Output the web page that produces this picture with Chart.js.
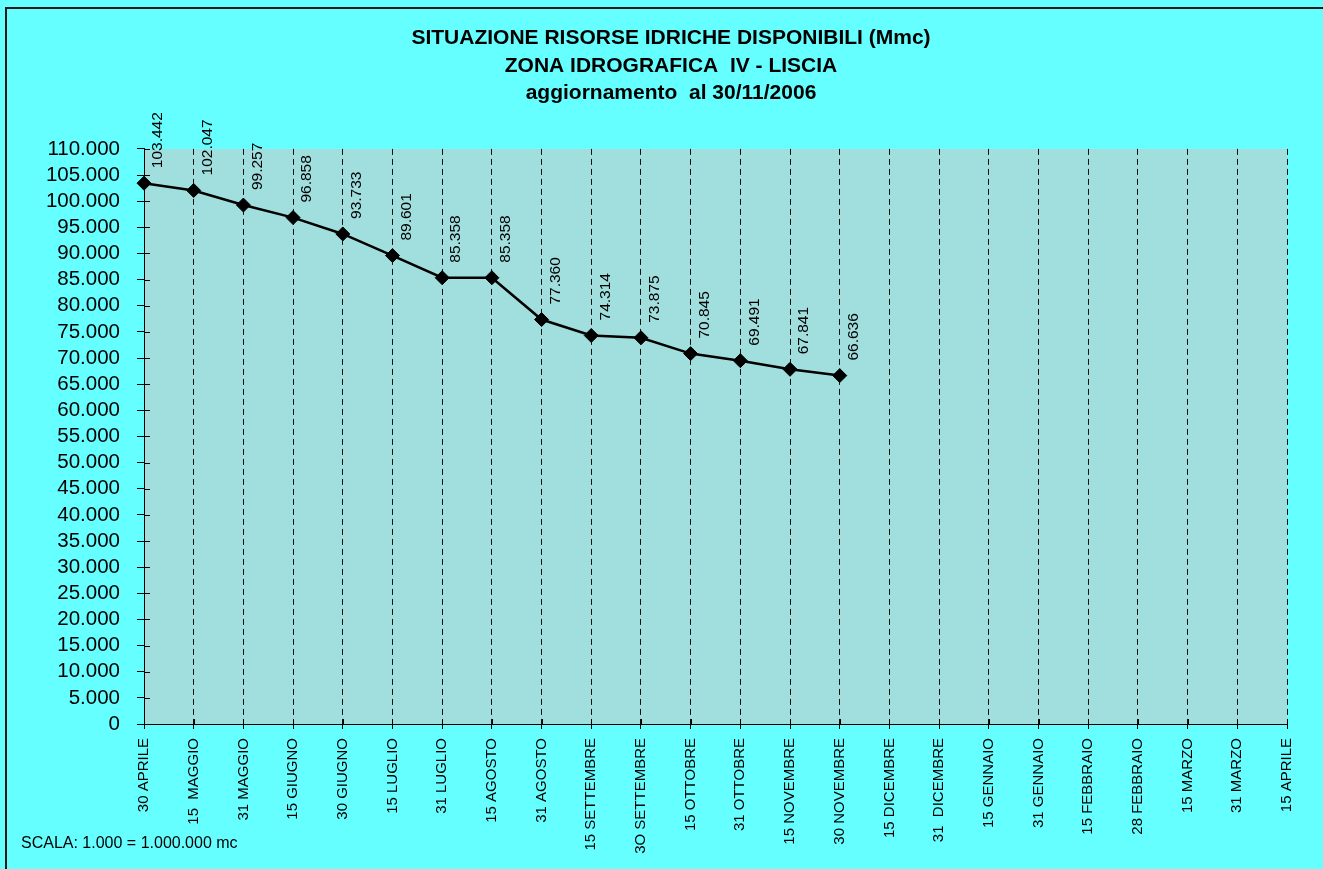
<!DOCTYPE html>
<html lang="it">
<head>
<meta charset="UTF-8" />
<title>Situazione risorse idriche - Liscia</title>
<script src="https://cdn.jsdelivr.net/npm/chart.js@4/dist/chart.umd.min.js"></script>
<style>
  html, body { margin: 0; padding: 0; overflow: hidden; background: #66ffff; }
  .wrap { position: relative; width: 1323px; height: 869px; }
  .frame {
    position: absolute; left: 5px; top: 7px; width: 1340px; height: 900px;
    border-left: 2px solid #1a1a1a; border-top: 2px solid #1a1a1a;
    pointer-events: none;
  }
  canvas { position: absolute; left: 0; top: 0; }
</style>
</head>
<body>
<div class="wrap">
  <canvas id="chart" width="1323" height="869"></canvas>
  <div class="frame"></div>
</div>
<script>
const FONT = 'Arial, "Liberation Sans", sans-serif';

const titleLines = [
  'SITUAZIONE RISORSE IDRICHE DISPONIBILI (Mmc)',
  'ZONA IDROGRAFICA  IV - LISCIA',
  'aggiornamento  al 30/11/2006',
];
const scaleNote = 'SCALA: 1.000 = 1.000.000 mc';

// dates of the survey (x axis)
const dates = [
  '30 APRILE', '15  MAGGIO', '31 MAGGIO', '15 GIUGNO', '30 GIUGNO', '15 LUGLIO',
  '31 LUGLIO', '15 AGOSTO', '31 AGOSTO', '15 SETTEMBRE', '3O SETTEMBRE', '15 OTTOBRE',
  '31 OTTOBRE', '15 NOVEMBRE', '30 NOVEMBRE', '15 DICEMBRE', '31  DICEMBRE', '15 GENNAIO',
  '31 GENNAIO', '15 FEBBRAIO', '28 FEBBRAIO', '15 MARZO', '31 MARZO', '15 APRILE',
];

// available volume, thousands of mc (1.000 = 1 Mmc)
const volumes = [
  103442, 102047, 99257, 96858, 93733, 89601, 85358, 85358,
  77360, 74314, 73875, 70845, 69491, 67841, 66636,
];

const yMin = 0;
const yMax = 110000;
const yStep = 5000;

function fmt(n) {
  return String(n).replace(/\B(?=(\d{3})+(?!\d))/g, '.');
}

const plotBackground = {
  id: 'plotBackground',
  beforeDraw(chart) {
    const { ctx, chartArea: a } = chart;
    ctx.save();
    ctx.fillStyle = '#a1dfdf';
    ctx.fillRect(a.left, a.top, a.right - a.left, a.bottom - a.top);
    ctx.restore();
  },
};

// tick marks crossing the axes (the inner half)
const innerTicks = {
  id: 'innerTicks',
  beforeDatasetsDraw(chart) {
    const { ctx, scales: { x, y } } = chart;
    ctx.save();
    ctx.strokeStyle = '#000';
    ctx.lineWidth = 1;
    ctx.beginPath();
    y.ticks.forEach((t, i) => {
      const py = Math.round(y.getPixelForTick(i)) + 0.5;
      ctx.moveTo(y.right, py);
      ctx.lineTo(y.right + 6, py);
    });
    x.ticks.forEach((t, i) => {
      const px = Math.round(x.getPixelForTick(i)) + 0.5;
      ctx.moveTo(px, x.top);
      ctx.lineTo(px, x.top - 5);
    });
    ctx.stroke();
    ctx.restore();
  },
};

const valueLabels = {
  id: 'valueLabels',
  afterDatasetsDraw(chart) {
    const { ctx } = chart;
    const meta = chart.getDatasetMeta(0);
    ctx.save();
    ctx.font = '15.5px ' + FONT;
    ctx.fillStyle = '#000';
    ctx.textAlign = 'left';
    ctx.textBaseline = 'middle';
    meta.data.forEach((pt, i) => {
      ctx.save();
      ctx.translate(pt.x + 14, pt.y - 15);
      ctx.rotate(-Math.PI / 2);
      ctx.fillText(fmt(volumes[i]), 0, 0);
      ctx.restore();
    });
    ctx.restore();
  },
};

const footNote = {
  id: 'footNote',
  afterDraw(chart) {
    const { ctx } = chart;
    ctx.save();
    ctx.font = '16px ' + FONT;
    ctx.fillStyle = '#000';
    ctx.textAlign = 'left';
    ctx.textBaseline = 'alphabetic';
    ctx.fillText(scaleNote, 21, 848);
    ctx.restore();
  },
};

new Chart(document.getElementById('chart'), {
  type: 'line',
  data: {
    labels: dates,
    datasets: [{
      data: volumes,
      borderColor: '#000',
      borderWidth: 2.5,
      pointStyle: 'rectRot',
      pointRadius: 7,
      pointBackgroundColor: '#000',
      pointBorderColor: '#000',
      pointBorderWidth: 1,
      tension: 0,
      clip: false,
    }],
  },
  options: {
    responsive: false,
    animation: false,
    devicePixelRatio: 1,
    layout: { padding: { left: 19, right: 0, top: 0, bottom: 0 } },
    plugins: {
      legend: { display: false },
      tooltip: { enabled: false },
      title: {
        display: true,
        text: titleLines,
        color: '#000',
        font: { family: FONT, size: 21, weight: 'bold', lineHeight: 1.3 },
        padding: { top: 25, bottom: 42 },
      },
    },
    scales: {
      x: {
        offset: false,
        afterFit(s) { s.height = 145; },
        grid: { color: '#111', lineWidth: 1, tickLength: 5, tickColor: '#000' },
        border: { display: true, color: '#000', width: 1, dash: [6, 4] },
        ticks: {
          autoSkip: false,
          maxRotation: 90,
          minRotation: 90,
          padding: 9,
          color: '#000',
          font: { family: FONT, size: 15 },
        },
      },
      y: {
        min: yMin,
        max: yMax,
        afterFit(s) { s.width = 125; },
        grid: { drawOnChartArea: false, tickLength: 7, color: '#000' },
        border: { display: true, color: '#000', width: 1 },
        ticks: {
          stepSize: yStep,
          autoSkip: false,
          padding: 17,
          color: '#000',
          font: { family: FONT, size: 20.5 },
          callback: (v) => fmt(v),
        },
      },
      // empty strip on the right of the plot
      edge: {
        type: 'linear',
        position: 'right',
        afterFit(s) { s.width = 36; },
        grid: { display: false },
        border: { display: false },
        ticks: { display: false },
      },
    },
  },
  plugins: [plotBackground, innerTicks, valueLabels, footNote],
});
</script>
</body>
</html>
